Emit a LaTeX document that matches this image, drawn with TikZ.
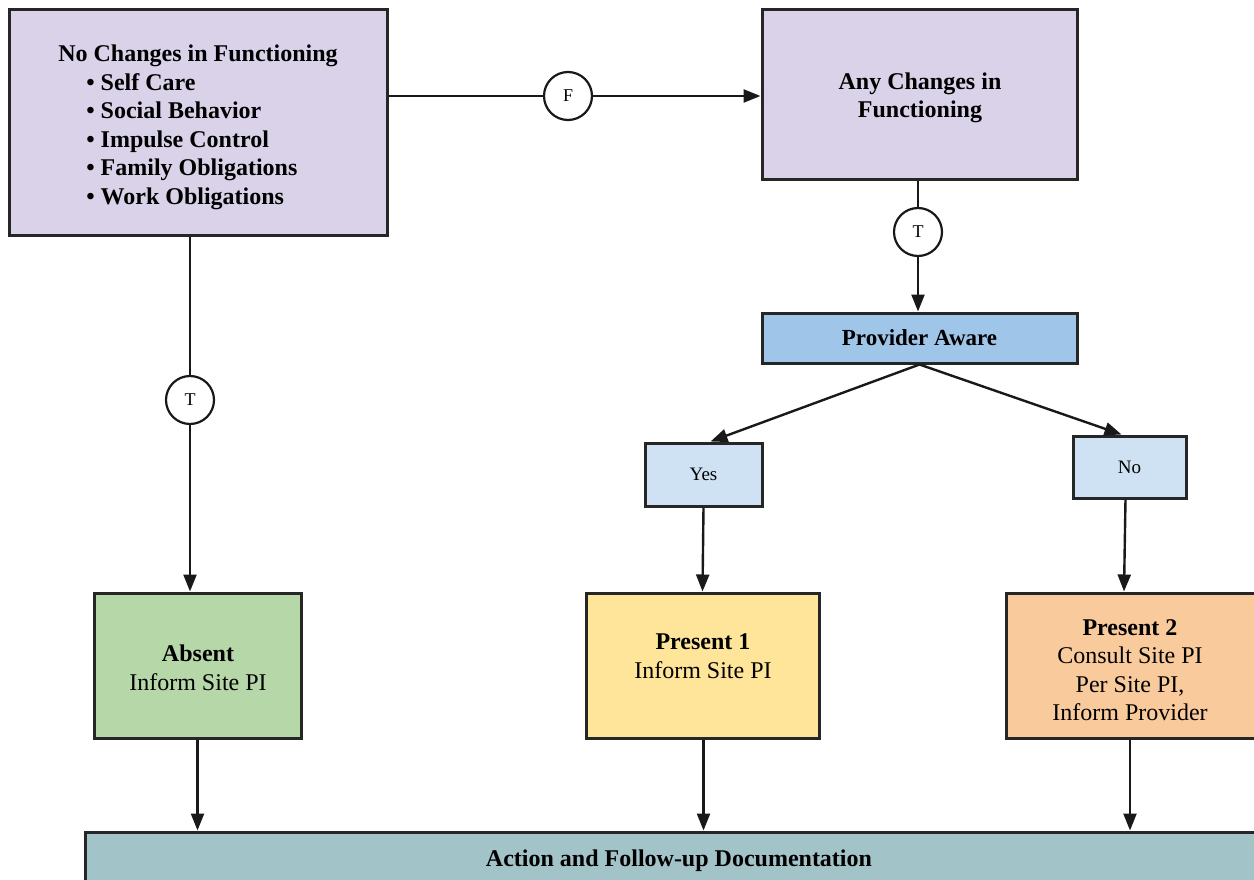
\documentclass[tikz,border=0pt]{standalone}
\usepackage{fontspec}
\setmainfont{Liberation Serif}
\usetikzlibrary{arrows.meta,calc}
\definecolor{lavender}{HTML}{D9D2E9}
\definecolor{paBlue}{HTML}{9FC5E8}
\definecolor{paleBlue}{HTML}{CFE2F3}
\definecolor{absGreen}{HTML}{B6D7A8}
\definecolor{p1Yellow}{HTML}{FFE599}
\definecolor{p2Orange}{HTML}{F9CB9C}
\definecolor{docTeal}{HTML}{A2C4C9}
\begin{document}
\begin{tikzpicture}[x=1pt,y=-1pt,
  box/.style={draw=black!85, line width=3pt, rectangle, inner sep=0pt},
  conn/.style={line width=2.4pt, draw=black!90, -{Triangle[length=17pt,width=13pt]}},
  plain/.style={line width=2.4pt, draw=black!90},
  tag/.style={circle, draw=black!90, line width=2.2pt, fill=white, minimum size=48pt, inner sep=0pt, font=\fontsize{18}{18}\selectfont},
  big/.style={font=\fontsize{24}{28.5}\selectfont, align=center, inner sep=0pt},
  small/.style={font=\fontsize{19}{22}\selectfont, inner sep=0pt},
]
\useasboundingbox (0,0) rectangle (1254,880);
\clip (0,0) rectangle (1254,880);

% boxes
\node[box, fill=lavender, minimum width=378pt, minimum height=225pt] (nc) at (198,122.5) {};
\node[box, fill=lavender, minimum width=315pt, minimum height=170pt] (ac) at (919.5,95) {};
\node[box, fill=paBlue, minimum width=315pt, minimum height=50pt, font=\bfseries\fontsize{23}{26}\selectfont] (pa) at (919.5,338) {Provider Aware};
\node[box, fill=paleBlue, minimum width=117pt, minimum height=63pt, small] (yes) at (703.5,474.5) {Yes};
\node[box, fill=paleBlue, minimum width=113pt, minimum height=62pt, small] (no) at (1129.5,467) {No};
\node[box, fill=absGreen, minimum width=207pt, minimum height=145pt] (ab) at (197.5,665.5) {};
\node[box, fill=p1Yellow, minimum width=233pt, minimum height=145pt] (p1) at (702.5,665.5) {};
\node[box, fill=p2Orange, minimum width=250pt, minimum height=145pt] (p2) at (1131,665.5) {};
\node[box, fill=docTeal, minimum width=1175pt, minimum height=68pt] (bot) at (672.5,866) {};

% box texts
\node[big, align=left] (nctext) at (198,127.5) {\textbf{No Changes in Functioning}\\
  \hspace*{28pt}\textbf{\textbullet\ Self Care}\\
  \hspace*{28pt}\textbf{\textbullet\ Social Behavior}\\
  \hspace*{28pt}\textbf{\textbullet\ Impulse Control}\\
  \hspace*{28pt}\textbf{\textbullet\ Family Obligations}\\
  \hspace*{28pt}\textbf{\textbullet\ Work Obligations}};
\node[big] (actext) at (920,98) {\textbf{Any Changes in}\\\textbf{Functioning}};
\node[big] (abtext) at (198,668) {\textbf{Absent}\\Inform Site PI};
\node[big] (p1text) at (703,656) {\textbf{Present 1}\\Inform Site PI};
\node[big] (p2text) at (1130,670) {\textbf{Present 2}\\Consult Site PI\\Per Site PI,\\Inform Provider};
\node[big] (bottext) at (679,861) {\textbf{Action and Follow-up Documentation}};

% decision tags
\node[tag] (F) at (568,96) {F};
\node[tag] (T2) at (918,232) {T};
\node[tag] (T1) at (190,400) {T};

% connectors
\draw[plain] (F) -- (F -| nc.east);
\draw[conn] (F) -- (F -| ac.west);
\draw[plain] (T2) -- (T2 |- ac.south);
\draw[conn] (T2) -- (T2 |- pa.north);
\draw[plain] (T1) -- (T1 |- nc.south);
\draw[conn] (T1) -- (T1 |- ab.north);
\draw[conn] (pa.south) -- ($(yes.north)+(7,0)$);
\draw[conn] (pa.south) -- ($(no.north)+(-8,0)$);
\draw[conn] (yes.south) -- (p1.north);
\draw[conn] ($(no.south)+(-4,0)$) -- ($(p2.north)+(-7,0)$);
\draw[conn] (ab.south) -- (ab.south |- bot.north);
\draw[conn] ($(p1.south)+(1,0)$) -- ($(p1.south |- bot.north)+(1,0)$);
\draw[conn] ($(p2.south)+(-1,0)$) -- ($(p2.south |- bot.north)+(-1,0)$);
\end{tikzpicture}
\end{document}
